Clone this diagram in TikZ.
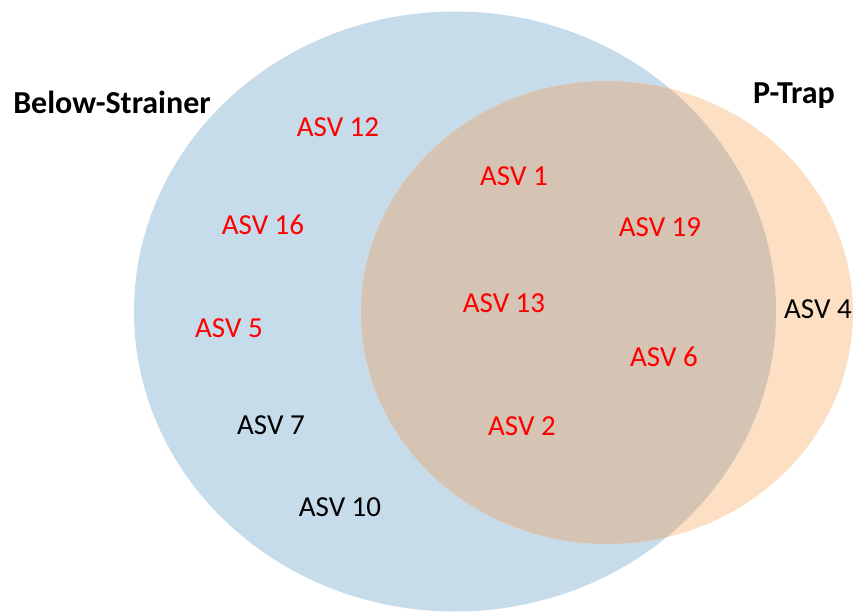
\documentclass[tikz,border=0pt]{standalone}
\usepackage{fontspec}
\setmainfont{Carlito}
\definecolor{setA}{RGB}{198,220,234}
\definecolor{setB}{RGB}{253,223,196}
\definecolor{setAB}{RGB}{213,196,179}
\definecolor{asvred}{RGB}{255,0,0}
\begin{document}
\begin{tikzpicture}[x=1pt,y=-1pt,
  asv/.style={anchor=base,inner sep=0pt,font=\fontsize{29}{31}\selectfont},
  shared/.style={asv,text=asvred},
  plain/.style={asv,text=black},
  setlabel/.style={anchor=base,inner sep=0pt,font=\fontsize{32}{34}\selectfont\bfseries}]
\useasboundingbox (0,0) rectangle (854,612);
% sets
\fill[setA] (455,311.5) ellipse [x radius=321, y radius=300];
\fill[setB] (607,312.5) ellipse [x radius=246, y radius=231.5];
\begin{scope}
  \clip (455,311.5) ellipse [x radius=321, y radius=300];
  \fill[setAB] (607,312.5) ellipse [x radius=246, y radius=231.5];
\end{scope}
% set labels
\node[setlabel] (lblA) at (112,114) {Below-Strainer};
\node[setlabel] (lblB) at (794,104) {P-Trap};
% members
\node[shared] (a12) at (338,136.5) {ASV 12};
\node[shared] (a1)  at (514,185.5) {ASV 1};
\node[shared] (a16) at (263,234.5) {ASV 16};
\node[shared] (a19) at (660,236.5) {ASV 19};
\node[shared] (a13) at (504,312.5) {ASV 13};
\node[plain]  (a4)  at (818,318.5) {ASV 4};
\node[shared] (a5)  at (229,337.5) {ASV 5};
\node[shared] (a6)  at (664,366.5) {ASV 6};
\node[plain]  (a7)  at (271,434.5) {ASV 7};
\node[shared] (a2)  at (522,435.5) {ASV 2};
\node[plain]  (a10) at (340,516.5) {ASV 10};
\end{tikzpicture}
\end{document}
